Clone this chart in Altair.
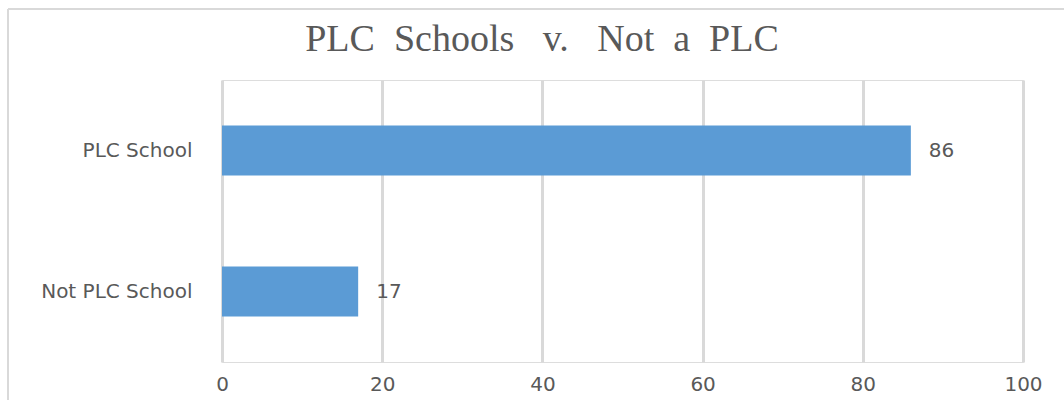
import altair as alt
import pandas as pd

categories = ["PLC School", "Not PLC School"]
values = [86, 17]
x_ticks = [0, 20, 40, 60, 80, 100]
title_text = "PLC\u00a0 Schools\u00a0\u00a0 v.\u00a0\u00a0 Not\u00a0 a\u00a0 PLC"

df = pd.DataFrame({"category": categories, "value": values})

GRAY = "#595959"
FONT = "DejaVu Sans"
FS = 20

base = alt.Chart(df)

y_enc = alt.Y(
    "category:N",
    sort=categories,
    title=None,
    axis=alt.Axis(
        labelFont=FONT, labelFontSize=FS, labelColor=GRAY, labelPadding=30,
        ticks=False, domain=False, grid=False,
    ),
)

bars = base.mark_bar(size=50, color="#5b9bd5").encode(
    x=alt.X(
        "value:Q",
        scale=alt.Scale(domain=[0, 100], nice=False),
        title=None,
        axis=alt.Axis(
            values=x_ticks, labelFont=FONT, labelFontSize=FS, labelColor=GRAY,
            ticks=False, domain=False, grid=True, gridColor="#d9d9d9",
            gridWidth=3, labelPadding=12, labelFlush=False,
        ),
    ),
    y=y_enc,
)

labels = base.mark_text(
    align="left", dx=18, font=FONT, fontSize=FS, color=GRAY
).encode(x="value:Q", y=alt.Y("category:N", sort=categories), text="value:Q")

one = pd.DataFrame({"t": [title_text]})
frame_top = alt.Chart(one).mark_rule(
    color="#d9d9d9", strokeWidth=2
).encode(x=alt.value(-214), x2=alt.value(900), y=alt.value(-71))
frame_left = alt.Chart(one).mark_rule(
    color="#d9d9d9", strokeWidth=2
).encode(x=alt.value(-214), y=alt.value(-71), y2=alt.value(330))

title = alt.Chart(one).mark_text(
    font="Liberation Serif", fontSize=38, color=GRAY,
    align="center", baseline="alphabetic",
).encode(x=alt.value(320), y=alt.value(-29), text="t:N")

chart = (
    alt.layer(frame_top, frame_left, title, bars, labels)
    .properties(
        width=801,
        height=282,
        autosize=alt.AutoSizeParams(type="none"),
        padding={"left": 222, "top": 80, "right": 41, "bottom": 38},
    )
    .configure_view(stroke=None)
    .configure(background="white")
)

chart.save("out.html", embed_options={"renderer": "svg", "actions": False})
